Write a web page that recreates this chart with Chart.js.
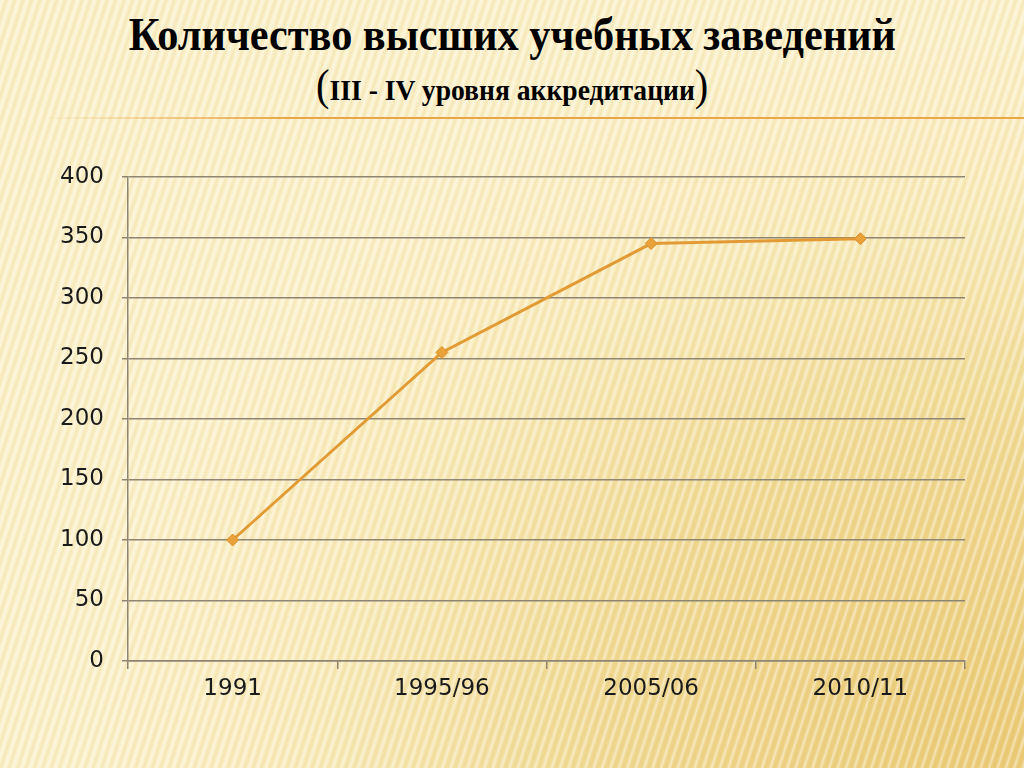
<!DOCTYPE html>
<html>
<head>
<meta charset="utf-8">
<script src="https://cdn.jsdelivr.net/npm/chart.js@4.4.1/dist/chart.umd.min.js"></script>
<style>
html,body{margin:0;padding:0;}
body{width:1024px;height:768px;overflow:hidden;position:relative;
background:
 repeating-linear-gradient(108deg, rgba(255,255,255,0) 0px, rgba(255,255,255,0.45) 2px, rgba(255,255,255,0) 4px, rgba(190,150,50,0.10) 6px, rgba(255,255,255,0) 8px),
 radial-gradient(ellipse 900px 700px at 1000px 740px, #EBCB78 0%, #F1DA95 45%, #F8EAB9 75%, #FBF0C9 100%);
}
#title{position:absolute;left:0;top:6px;width:1024px;text-align:center;font-family:"Liberation Serif","Times New Roman",serif;font-weight:bold;color:#000;}
#t1{font-size:47px;line-height:56px;display:inline-block;transform:scaleX(0.9);transform-origin:center;}
#t2{position:absolute;left:0;top:60px;width:1024px;text-align:center;font-family:'Liberation Serif',serif;font-weight:bold;}
#t2 .in{display:inline-block;transform:scaleX(0.92);transform-origin:center;}
#t2 span.p{font-size:44px;font-weight:normal;}
#t2 span.s{font-size:30px;}
#rule{position:absolute;left:40px;top:117px;width:984px;height:2px;background:linear-gradient(90deg,rgba(230,160,60,0) 0%,#E8A84A 25%,#E8A84A 100%);}
#c{position:absolute;left:0;top:0;}
</style>
</head>
<body>
<div id="title"><span id="t1">Количество высших учебных заведений</span></div>
<div id="t2"><span class="in"><span class="p">(</span><span class="s">III - IV уровня аккредитации</span><span class="p">)</span></span></div>
<div id="rule"></div>
<canvas id="c" width="1024" height="768"></canvas>
<script>
const categories = ["1991", "1995/96", "2005/06", "2010/11"];
const values = [100, 255, 345, 349];
const yTicks = [0, 50, 100, 150, 200, 250, 300, 350, 400];

const gridColor = "#8E8672";
new Chart(document.getElementById("c"), {
  type: "line",
  data: {
    labels: categories,
    datasets: [{
      data: values,
      borderColor: "#E29B34",
      backgroundColor: "#E9A23A",
      pointBorderColor: "#D98F2A",
      borderWidth: 3,
      pointStyle: "rectRot",
      pointRadius: 6,
      pointBorderWidth: 1,
      tension: 0,
      fill: false
    }]
  },
  options: {
    responsive: false,
    animation: false,
    devicePixelRatio: 1,
    layout: { padding: { left: 0, right: 59, top: 177, bottom: 0 } },
    plugins: { legend: { display: false }, tooltip: { enabled: false } },
    scales: {
      x: {
        offset: true,
        grid: { offset: true, drawOnChartArea: false, drawTicks: true, tickLength: 8, color: gridColor, lineWidth: 1.5 },
        border: { color: gridColor, width: 1.5 },
        ticks: { font: { family: "DejaVu Sans", size: 23 }, color: "#1a1a1a", padding: 6 },
        afterFit: s => { s.height = 107; }
      },
      y: {
        min: 0, max: 400,
        afterBuildTicks: s => { s.ticks = yTicks.map(v => ({ value: v })); },
        grid: { color: gridColor, lineWidth: 1.5, tickLength: 6 },
        border: { color: gridColor, width: 1.5 },
        ticks: { font: { family: "DejaVu Sans", size: 23 }, color: "#1a1a1a", padding: 18 },
        afterFit: s => { s.width = 128; }
      }
    }
  }
});
</script>
</body>
</html>
